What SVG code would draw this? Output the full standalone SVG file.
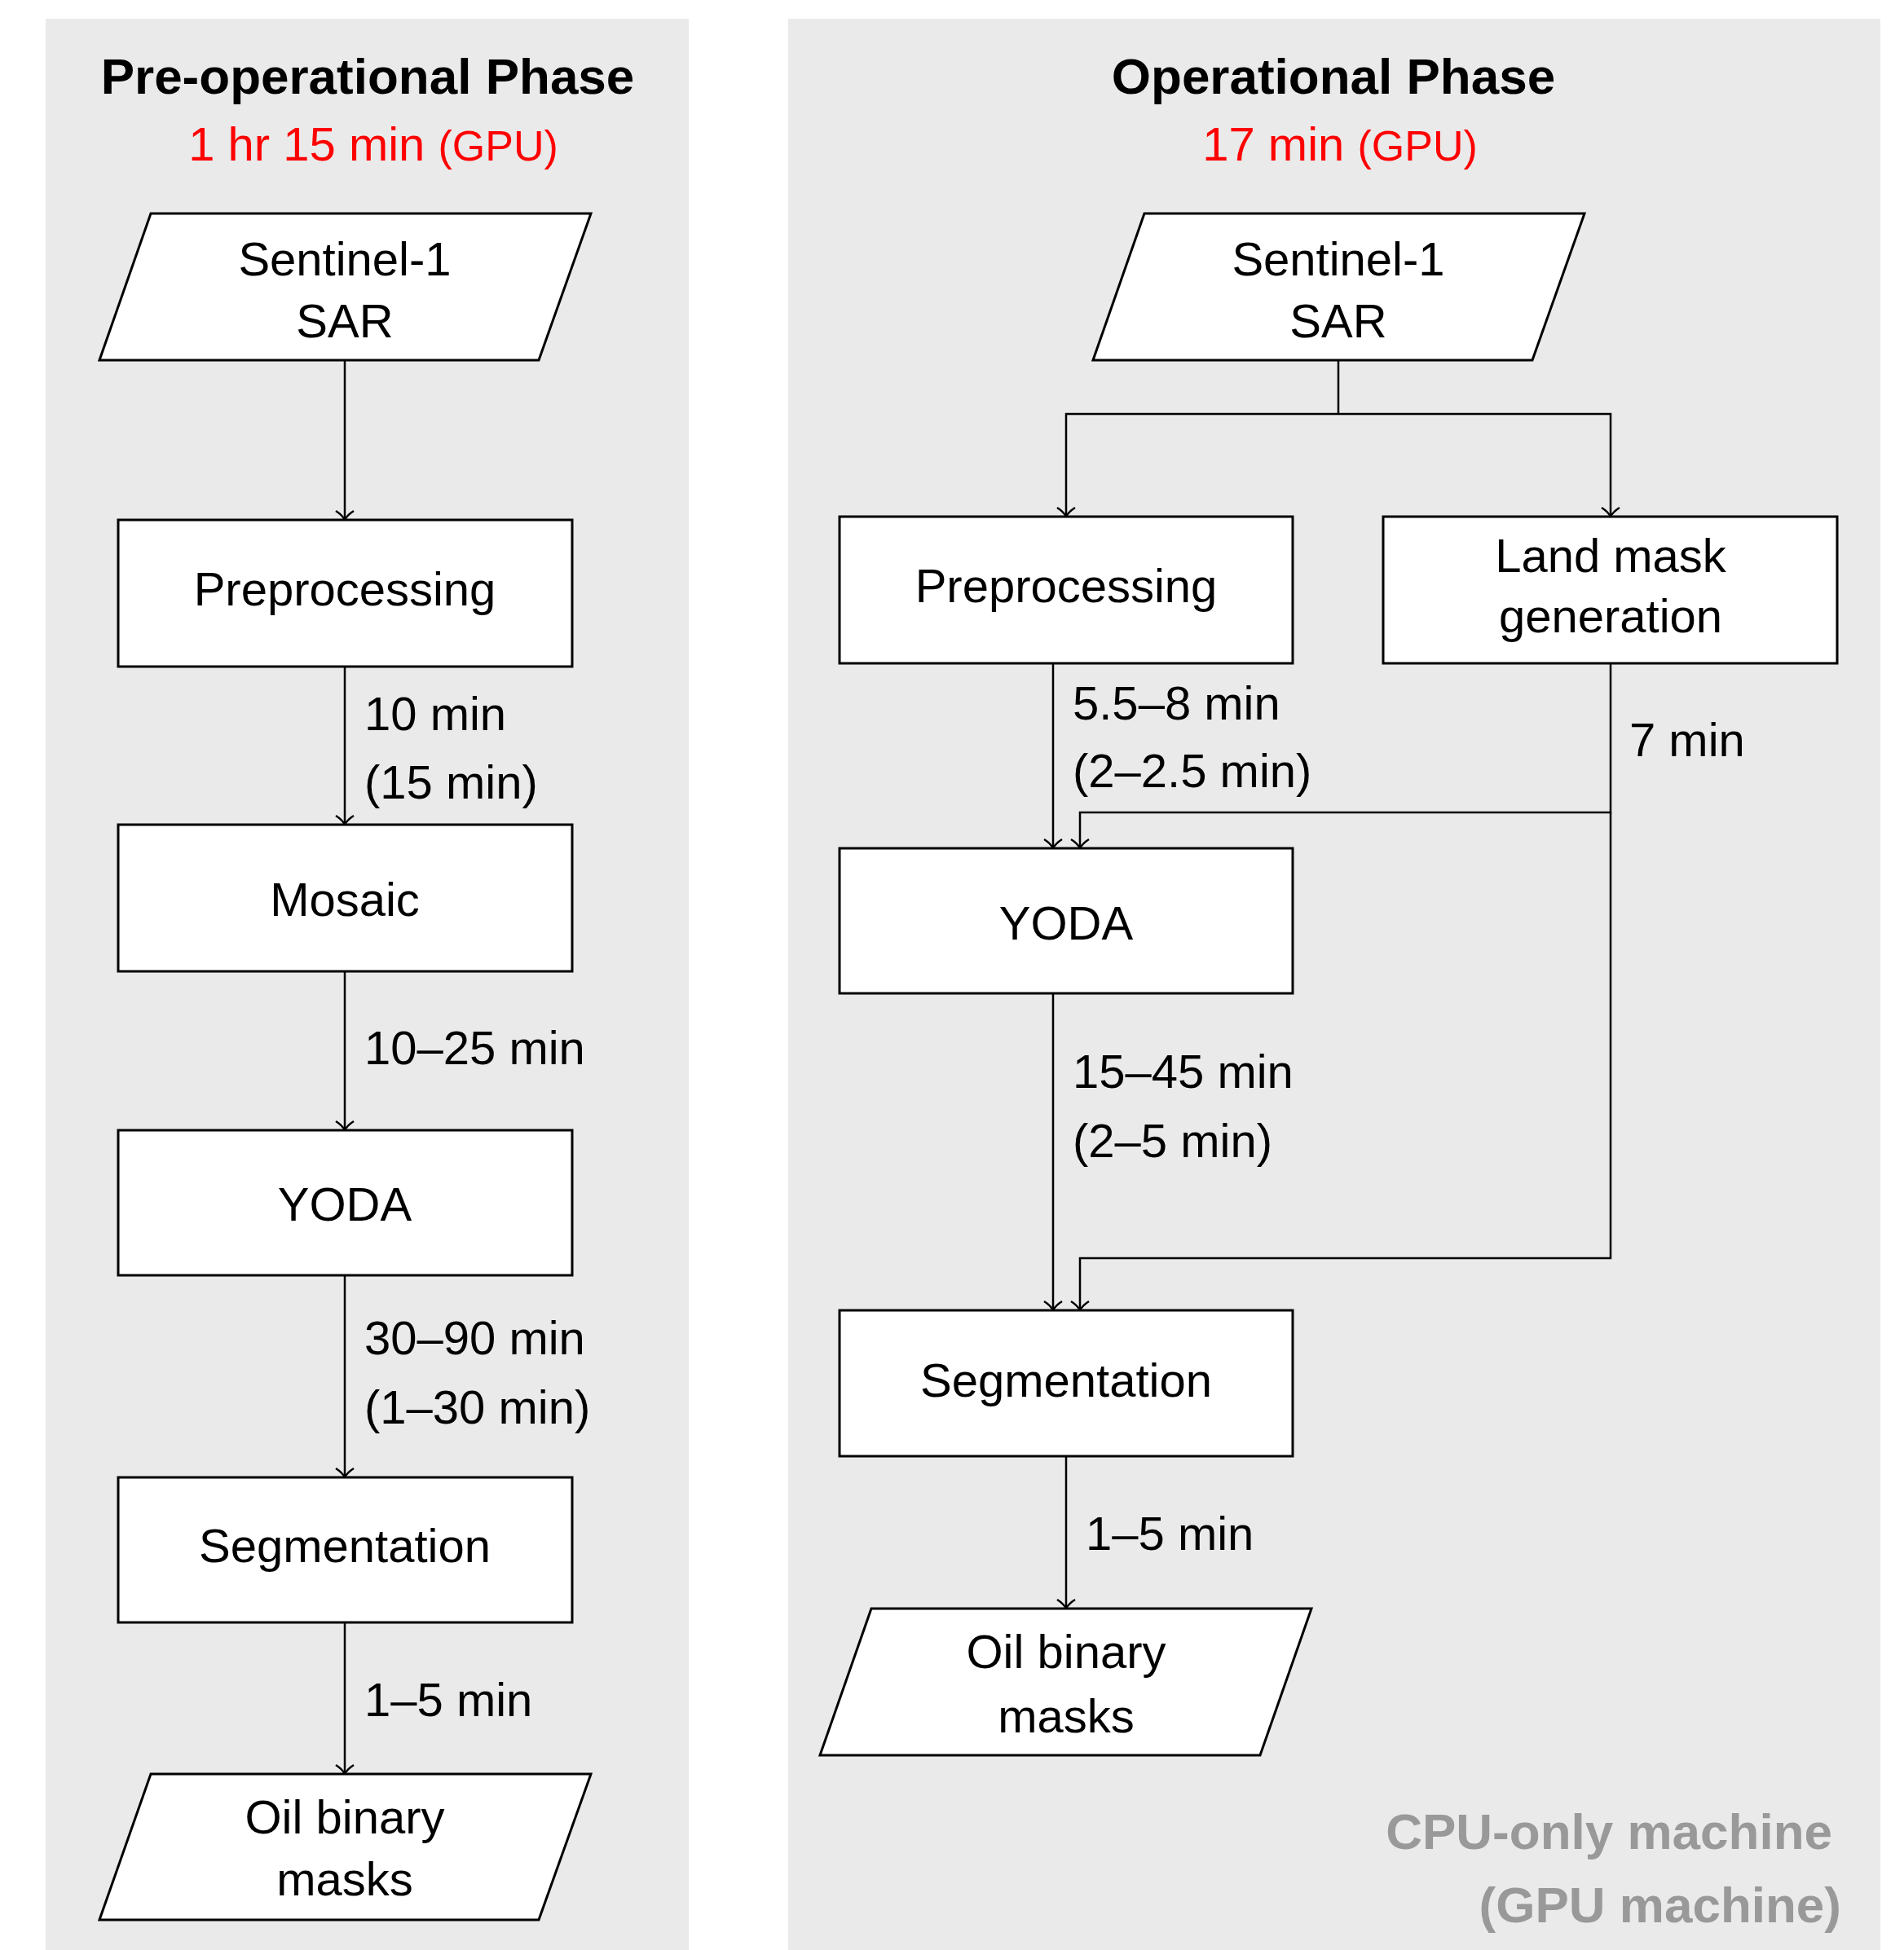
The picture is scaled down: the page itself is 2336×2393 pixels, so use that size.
<svg xmlns="http://www.w3.org/2000/svg" width="2336" height="2393" viewBox="0 0 2336 2393">
<defs>
<style>
.panel{fill:#eaeaea}
.node{fill:#ffffff;stroke:#000000;stroke-width:3}
.lbl{font-family:"Liberation Sans",Arial,sans-serif;font-size:58px;fill:#000000}
.c{text-anchor:middle}
.title{font-family:"Liberation Sans",Arial,sans-serif;font-size:62px;font-weight:bold;fill:#000000;text-anchor:middle}
.time{font-family:"Liberation Sans",Arial,sans-serif;font-size:58px;fill:#ff0000;text-anchor:middle}
.gpu{font-size:52px}
.note{font-family:"Liberation Sans",Arial,sans-serif;font-size:62px;font-weight:bold;fill:#999999;text-anchor:end}
.edge{fill:none;stroke:#000000;stroke-width:2.5}
</style>
<marker id="arr" markerUnits="userSpaceOnUse" markerWidth="30" markerHeight="30" viewBox="-15 -15 30 30" refX="0" refY="0" orient="auto" overflow="visible">
<path d="M -11 -11 Q -6 -3 0 0 Q -6 3 -11 11" fill="none" stroke="#000000" stroke-width="2.5"/>
</marker>
</defs>
<rect x="0" y="0" width="2336" height="2393" fill="#ffffff"/>

<g id="panel-pre">
<rect class="panel" x="56" y="23" width="789" height="2370"/>
<text class="title" x="451" y="115">Pre-operational Phase</text>
<text class="time" x="458" y="197">1 hr 15 min <tspan class="gpu">(GPU)</tspan></text>
</g>

<g id="panel-op">
<rect class="panel" x="967" y="23" width="1340" height="2370"/>
<text class="title" x="1636" y="115">Operational Phase</text>
<text class="time" x="1644" y="197">17 min <tspan class="gpu">(GPU)</tspan></text>
<text class="note" x="2248" y="2269">CPU-only machine</text>
<text class="note" x="2259" y="2359">(GPU machine)</text>
</g>

<g id="connectors">
<path class="edge" d="M 423 442 V 638" marker-end="url(#arr)"/>
<path class="edge" d="M 423 818 V 1012" marker-end="url(#arr)"/>
<path class="edge" d="M 423 1192 V 1387" marker-end="url(#arr)"/>
<path class="edge" d="M 423 1565 V 1813" marker-end="url(#arr)"/>
<path class="edge" d="M 423 1991 V 2177" marker-end="url(#arr)"/>

<path class="edge" d="M 1642 442 V 508"/>
<path class="edge" d="M 1642 508 H 1308 V 634" marker-end="url(#arr)"/>
<path class="edge" d="M 1642 508 H 1976 V 634" marker-end="url(#arr)"/>
<path class="edge" d="M 1292 814 V 1041" marker-end="url(#arr)"/>
<path class="edge" d="M 1976 814 V 997 H 1325 V 1041" marker-end="url(#arr)"/>
<path class="edge" d="M 1976 997 V 1544 H 1325 V 1608" marker-end="url(#arr)"/>
<path class="edge" d="M 1292 1219 V 1608" marker-end="url(#arr)"/>
<path class="edge" d="M 1308 1787 V 1974" marker-end="url(#arr)"/>

<text class="lbl" x="447" y="896">10 min</text>
<text class="lbl" x="447" y="980">(15 min)</text>
<text class="lbl" x="447" y="1306">10–25 min</text>
<text class="lbl" x="447" y="1662">30–90 min</text>
<text class="lbl" x="447" y="1747">(1–30 min)</text>
<text class="lbl" x="447" y="2106">1–5 min</text>

<text class="lbl" x="1316" y="883">5.5–8 min</text>
<text class="lbl" x="1316" y="966">(2–2.5 min)</text>
<text class="lbl" x="1999" y="928">7 min</text>
<text class="lbl" x="1316" y="1335">15–45 min</text>
<text class="lbl" x="1316" y="1420">(2–5 min)</text>
<text class="lbl" x="1332" y="1902">1–5 min</text>
</g>

<g id="pre-sentinel">
<polygon class="node" points="185,262 725,262 661,442 122,442"/>
<text class="lbl c" x="423" y="338">Sentinel-1</text>
<text class="lbl c" x="423" y="414">SAR</text>
</g>
<g id="pre-preprocessing">
<rect class="node" x="145" y="638" width="557" height="180"/>
<text class="lbl c" x="423" y="743">Preprocessing</text>
</g>
<g id="pre-mosaic">
<rect class="node" x="145" y="1012" width="557" height="180"/>
<text class="lbl c" x="423" y="1124">Mosaic</text>
</g>
<g id="pre-yoda">
<rect class="node" x="145" y="1387" width="557" height="178"/>
<text class="lbl c" x="423" y="1498">YODA</text>
</g>
<g id="pre-segmentation">
<rect class="node" x="145" y="1813" width="557" height="178"/>
<text class="lbl c" x="423" y="1917">Segmentation</text>
</g>
<g id="pre-oil">
<polygon class="node" points="185,2177 725,2177 661,2356 122,2356"/>
<text class="lbl c" x="423" y="2250">Oil binary</text>
<text class="lbl c" x="423" y="2326">masks</text>
</g>

<g id="op-sentinel">
<polygon class="node" points="1404,262 1944,262 1880,442 1341,442"/>
<text class="lbl c" x="1642" y="338">Sentinel-1</text>
<text class="lbl c" x="1642" y="414">SAR</text>
</g>
<g id="op-preprocessing">
<rect class="node" x="1030" y="634" width="556" height="180"/>
<text class="lbl c" x="1308" y="739">Preprocessing</text>
</g>
<g id="op-landmask">
<rect class="node" x="1697" y="634" width="557" height="180"/>
<text class="lbl c" x="1976" y="702">Land mask</text>
<text class="lbl c" x="1976" y="776">generation</text>
</g>
<g id="op-yoda">
<rect class="node" x="1030" y="1041" width="556" height="178"/>
<text class="lbl c" x="1308" y="1153">YODA</text>
</g>
<g id="op-segmentation">
<rect class="node" x="1030" y="1608" width="556" height="179"/>
<text class="lbl c" x="1308" y="1714">Segmentation</text>
</g>
<g id="op-oil">
<polygon class="node" points="1069,1974 1609,1974 1546,2154 1006,2154"/>
<text class="lbl c" x="1308" y="2047">Oil binary</text>
<text class="lbl c" x="1308" y="2126">masks</text>
</g>
</svg>
